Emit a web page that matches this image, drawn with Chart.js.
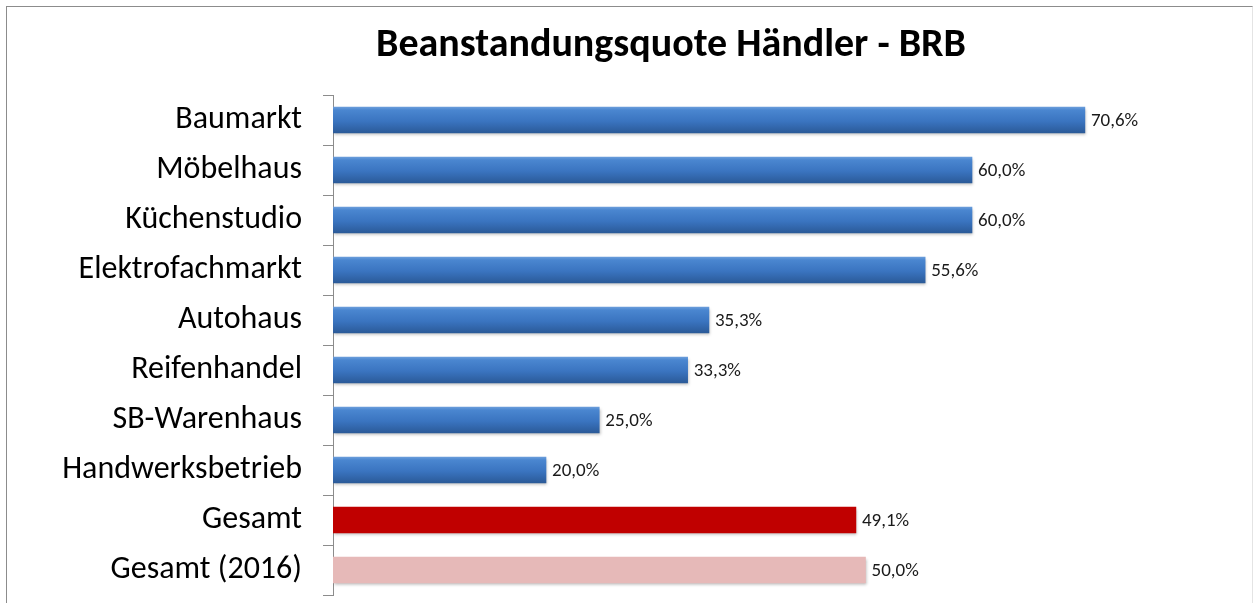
<!DOCTYPE html>
<html>
<head>
<meta charset="utf-8">
<script src="https://cdn.jsdelivr.net/npm/chart.js@4.4.1/dist/chart.umd.min.js"></script>
<style>
  html, body { margin: 0; padding: 0; background: #fff; }
  #wrap { position: relative; width: 1253px; height: 603px; overflow: hidden; }
  #frame { position: absolute; left: 6px; top: 6px; width: 1245px; height: 620px;
           border-left: 1px solid #8c8c8c; border-top: 1px solid #8c8c8c; border-right: 1px solid #e4e4e4; }
  canvas { position: absolute; left: 0; top: 0; }
</style>
</head>
<body>
<div id="wrap">
  <div id="frame"></div>
  <canvas id="chart" width="1253" height="603"></canvas>
</div>
<script>
// data
var categories = ['Baumarkt', 'Möbelhaus', 'Küchenstudio', 'Elektrofachmarkt', 'Autohaus',
                  'Reifenhandel', 'SB-Warenhaus', 'Handwerksbetrieb', 'Gesamt', 'Gesamt (2016)'];
var quote = [70.6, 60.0, 60.0, 55.6, 35.3, 33.3, 25.0, 20.0, 49.1, 50.0];
var barKind = ['blue', 'blue', 'blue', 'blue', 'blue', 'blue', 'blue', 'blue', 'red', 'pink'];
var titleText = 'Beanstandungsquote Händler - BRB';

var fontFam = "Carlito, Calibri, Lato, 'Open Sans', sans-serif";

function barColor(c) {
	var kind = barKind[c.dataIndex];
	if (kind == 'red') return '#c00000';
	if (kind == 'pink') return '#e6b9b8';
	var ch = c.chart;
	if (!ch.chartArea || !ch.scales.y) return '#3a76c4';
	var y = ch.scales.y.getPixelForValue(c.dataIndex);
	var g = ch.ctx.createLinearGradient(0, y - 13, 0, y + 13);
	g.addColorStop(0, '#6a9ddb');
	g.addColorStop(0.12, '#4a86d0');
	g.addColorStop(0.55, '#3a74c0');
	g.addColorStop(1, '#2b5a98');
	return g;
}

// title, drawn centred over the whole frame
var titlePlugin = {
	id: 'bigTitle',
	afterDraw: function(chart) {
		var ctx = chart.ctx;
		ctx.save();
		ctx.font = 'bold 40px ' + fontFam;
		ctx.fillStyle = '#000';
		ctx.textAlign = 'center';
		ctx.textBaseline = 'middle';
		ctx.fillText(titleText, 671, 46);
		ctx.restore();
	}
};

// soft shadow under the bars
var shadowPlugin = {
	id: 'shadow',
	beforeDatasetsDraw: function(chart) {
		var ctx = chart.ctx;
		ctx.save();
		ctx.shadowColor = 'rgba(0,0,0,0.28)';
		ctx.shadowBlur = 3;
		ctx.shadowOffsetX = 1;
		ctx.shadowOffsetY = 2;
	},
	afterDatasetsDraw: function(chart) {
		chart.ctx.restore();
	}
};

// value labels right of the bars
var labelPlugin = {
	id: 'valueLabels',
	afterDatasetsDraw: function(chart) {
		var ctx = chart.ctx;
		var meta = chart.getDatasetMeta(0);
		ctx.save();
		ctx.font = '19px ' + fontFam;
		ctx.fillStyle = '#1a1a1a';
		ctx.textAlign = 'left';
		ctx.textBaseline = 'middle';
		meta.data.forEach(function(bar, i) {
			ctx.fillText(quote[i].toFixed(1).replace('.', ',') + '%', bar.x + 6, bar.y + 1);
		});
		ctx.restore();
	}
};

var ctx = document.getElementById('chart').getContext('2d');
var chart = new Chart(ctx, {
	type: 'bar',
	data: {
		labels: categories,
		datasets: [{
			data: quote,
			backgroundColor: barColor,
			borderWidth: 0,
			barThickness: 26
		}]
	},
	options: {
		indexAxis: 'y',
		responsive: false,
		animation: false,
		layout: { autoPadding: false, padding: { left: 0, right: 68, top: 95, bottom: 8 } },
		plugins: {
			legend: { display: false },
			tooltip: { enabled: false },
			title: { display: false }
		},
		scales: {
			x: {
				display: false,
				min: 0,
				max: 80
			},
			y: {
				afterFit: function(s) {
					s.width = 333;
					s.paddingTop = 0;
					s.paddingBottom = 0;
				},
				border: { display: true, color: '#8c8c8c', width: 1 },
				grid: { display: true, drawOnChartArea: false, tickLength: 10, color: '#8c8c8c' },
				ticks: {
					color: '#000',
					padding: 21,
					font: { family: fontFam, size: 32 }
				}
			}
		}
	},
	plugins: [titlePlugin, shadowPlugin, labelPlugin]
});
</script>
</body>
</html>
